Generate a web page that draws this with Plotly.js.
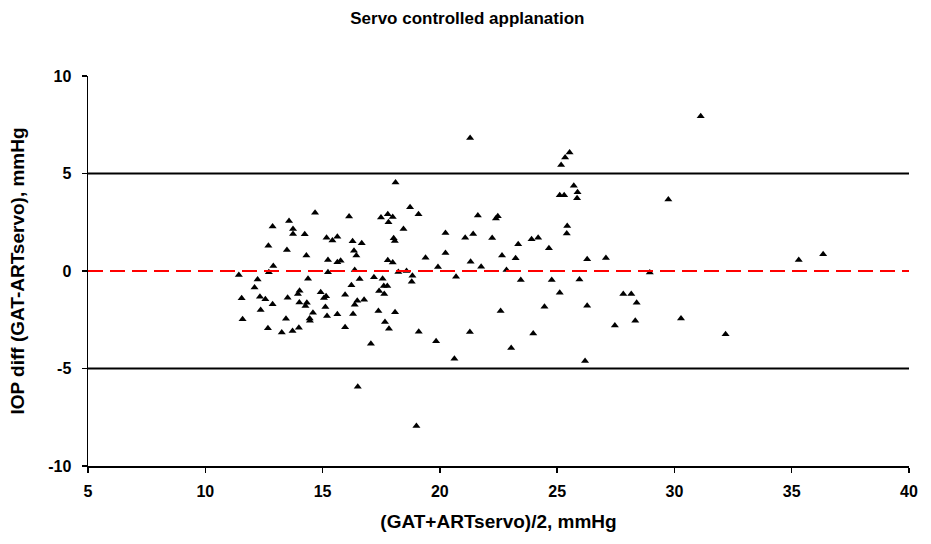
<!DOCTYPE html>
<html>
<head>
<meta charset="utf-8">
<script src="https://cdn.plot.ly/plotly-3.0.1.min.js"></script>
<style>html,body{margin:0;padding:0;background:#fff;}#chart{width:931px;height:544px;}</style>
</head>
<body>
<div id="chart"></div>
<script>
// Mean of the two methods, mmHg
const meanValues = [
  14.68,12.87,13.57,13.74,13.74,14.24,12.69,13.48,14.31,15.17,15.42,15.63,15.23,15.63,12.90,12.71,11.43,12.23,12.10,14.38,15.23,11.55,12.33,12.56,12.87,13.51,14.02,13.95,14.01,14.33,14.27,14.92,15.15,15.06,15.12,12.36,14.59,14.45,14.46,15.19,15.63,11.59,13.44,12.67,13.26,13.72,13.99,
  18.11,18.73,19.09,16.13,17.49,17.78,17.99,17.81,18.45,18.03,18.08,16.28,16.67,16.34,16.44,17.78,17.99,19.39,15.77,19.92,16.37,18.23,18.58,18.83,18.80,16.58,17.19,17.56,16.23,17.61,17.76,17.41,17.63,15.96,
  16.48,16.77,16.37,16.30,17.38,18.09,15.96,17.66,17.83,19.10,19.84,17.06,16.50,19.00,
  21.29,21.62,22.47,22.39,20.24,21.08,21.42,22.23,23.34,23.91,24.19,24.65,20.24,21.31,21.76,22.65,23.23,
  22.84,20.69,23.45,24.77,22.59,24.46,21.28,23.98,23.04,20.62,
  25.53,25.34,25.17,25.71,25.11,25.30,25.87,25.85,29.74,25.43,25.41,26.28,27.08,28.95,25.95,
  25.11,27.82,28.16,28.39,26.28,28.33,27.46,26.19,
  31.12,35.30,36.34,30.28,32.18
];
// Difference GAT - ARTservo, mmHg
const diffValues = [
  2.99,2.28,2.57,2.16,1.90,1.88,1.30,1.08,0.79,1.71,1.56,1.76,0.56,0.45,0.26,-0.07,-0.21,-0.43,-0.84,-0.40,-0.07,-1.40,-1.32,-1.45,-1.71,-1.37,-1.01,-1.18,-1.61,-1.63,-1.80,-1.09,-1.30,-1.39,-1.85,-2.00,-2.14,-2.43,-2.55,-2.31,-2.22,-2.48,-2.45,-2.94,-3.15,-3.08,-2.91,
  4.54,3.27,2.91,2.79,2.74,2.91,2.77,2.50,2.16,1.68,1.54,1.53,1.42,1.04,0.79,0.55,0.43,0.68,0.53,0.21,0.05,-0.05,0.00,-0.24,-0.55,-0.41,-0.32,-0.40,-0.73,-0.77,-0.77,-1.03,-1.18,-1.22,
  -1.53,-1.47,-1.73,-2.21,-2.05,-2.12,-2.88,-2.62,-2.96,-3.12,-3.60,-3.73,-5.94,-7.95,
  6.82,2.84,2.81,2.69,1.95,1.71,1.90,1.69,1.37,1.63,1.71,1.17,0.92,0.48,0.22,0.79,0.65,
  0.05,-0.29,-0.46,-0.46,-2.05,-1.83,-3.13,-3.20,-3.95,-4.50,
  6.08,5.82,5.44,4.37,3.89,3.89,4.04,3.73,3.67,2.31,1.92,0.60,0.67,-0.08,-0.44,
  -1.11,-1.18,-1.18,-1.63,-1.78,-2.55,-2.79,-4.61,
  7.93,0.56,0.86,-2.43,-3.24
];
const meanDiff = 0;
const limitsOfAgreement = [5, -5];
const xTicks = [5, 10, 15, 20, 25, 30, 35, 40];
const yTicks = [-10, -5, 0, 5, 10];

const fontFam = "Liberation Sans, Arial, sans-serif";
const bold = s => '<b>' + s + '</b>';
const shapes = limitsOfAgreement.map(v => ({
  type: 'line', xref: 'paper', x0: 0, x1: 1, yref: 'y', y0: v, y1: v,
  line: {color: '#000', width: 2}
}));
shapes.push({
  type: 'line', xref: 'paper', x0: 0, x1: 1, yref: 'y', y0: meanDiff, y1: meanDiff,
  line: {color: '#ff0000', width: 2, dash: '15px,7px'}
});

const trace = {
  x: meanValues, y: diffValues, type: 'scatter', mode: 'markers',
  marker: {symbol: 'triangle-up', size: 7, color: '#000'},
  hoverinfo: 'x+y', showlegend: false
};

const layout = {
  width: 931, height: 544,
  margin: {l: 87.5, r: 22, t: 76, b: 78, pad: 0},
  paper_bgcolor: '#fff', plot_bgcolor: '#fff',
  font: {family: fontFam, size: 16, color: '#000'},
  title: {text: bold('Servo controlled applanation'), x: 0.502, xanchor: 'center', y: 1 - 18/544, yanchor: 'middle', yref: 'container',
          font: {family: fontFam, size: 17, color: '#000'}},
  xaxis: {
    range: [5, 40], tickvals: xTicks, ticktext: xTicks.map(v => bold(v)),
    showgrid: false, zeroline: false, showline: true, linecolor: '#000', linewidth: 1.5,
    ticks: 'outside', ticklen: 5, tickwidth: 1.5, tickcolor: '#000', ticklabelstandoff: 5,
    tickfont: {family: fontFam, size: 16, color: '#000'},
    title: {text: bold('(GAT+ARTservo)/2, mmHg'), standoff: 16, font: {family: fontFam, size: 19, color: '#000'}},
    automargin: false
  },
  yaxis: {
    range: [-10, 10], tickvals: yTicks, ticktext: yTicks.map(v => bold(v)),
    showgrid: false, zeroline: false, showline: true, linecolor: '#000', linewidth: 1.5,
    ticks: 'outside', ticklen: 5, tickwidth: 1.5, tickcolor: '#000', ticklabelstandoff: 7,
    tickfont: {family: fontFam, size: 16, color: '#000'},
    title: {text: bold('IOP diff (GAT-ARTservo), mmHg'), standoff: 18, font: {family: fontFam, size: 19, color: '#000'}},
    automargin: false
  },
  shapes: shapes
};

Plotly.newPlot('chart', [trace], layout, {staticPlot: true, displayModeBar: false});
</script>
</body>
</html>
